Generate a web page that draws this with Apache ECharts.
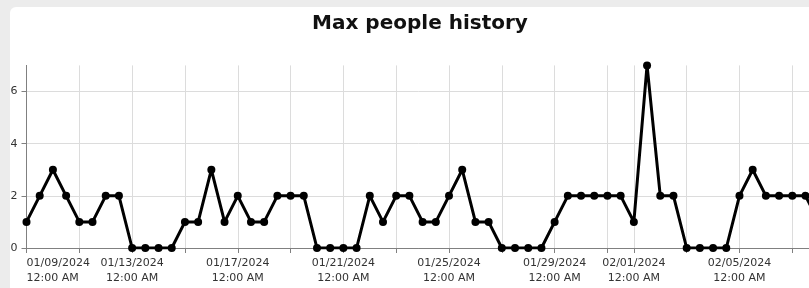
<!DOCTYPE html>
<html>
<head>
<meta charset="utf-8">
<script src="https://cdn.jsdelivr.net/npm/echarts@6/dist/echarts.min.js"></script>
<style>
html,body{margin:0;padding:0;background:#ececec;}
#chart{width:809px;height:288px;}
</style>
</head>
<body>
<div id="chart"></div>
<script>
const titleText = 'Max people history';
const categories = [
 '01/09/2024 12:00 AM','01/09/2024 12:00 PM','01/10/2024 12:00 AM','01/10/2024 12:00 PM',
 '01/11/2024 12:00 AM','01/11/2024 12:00 PM','01/12/2024 12:00 AM','01/12/2024 12:00 PM',
 '01/13/2024 12:00 AM','01/13/2024 12:00 PM','01/14/2024 12:00 AM','01/14/2024 12:00 PM',
 '01/15/2024 12:00 AM','01/15/2024 12:00 PM','01/16/2024 12:00 AM','01/16/2024 12:00 PM',
 '01/17/2024 12:00 AM','01/17/2024 12:00 PM','01/18/2024 12:00 AM','01/18/2024 12:00 PM',
 '01/19/2024 12:00 AM','01/19/2024 12:00 PM','01/20/2024 12:00 AM','01/20/2024 12:00 PM',
 '01/21/2024 12:00 AM','01/21/2024 12:00 PM','01/22/2024 12:00 AM','01/22/2024 12:00 PM',
 '01/23/2024 12:00 AM','01/23/2024 12:00 PM','01/24/2024 12:00 AM','01/24/2024 12:00 PM',
 '01/25/2024 12:00 AM','01/25/2024 12:00 PM','01/26/2024 12:00 AM','01/26/2024 12:00 PM',
 '01/27/2024 12:00 AM','01/27/2024 12:00 PM','01/28/2024 12:00 AM','01/28/2024 12:00 PM',
 '01/29/2024 12:00 AM','01/29/2024 12:00 PM','01/30/2024 12:00 AM','01/30/2024 12:00 PM',
 '01/31/2024 12:00 AM','01/31/2024 12:00 PM','02/01/2024 12:00 AM','02/01/2024 12:00 PM',
 '02/02/2024 12:00 AM','02/02/2024 12:00 PM','02/03/2024 12:00 AM','02/03/2024 12:00 PM',
 '02/04/2024 12:00 AM','02/04/2024 12:00 PM','02/05/2024 12:00 AM','02/05/2024 12:00 PM',
 '02/06/2024 12:00 AM','02/06/2024 12:00 PM','02/07/2024 12:00 AM','02/07/2024 12:00 PM',
 '02/08/2024 12:00 AM'
];
const maxPeople = [
 1,2,3,2,1,1,2,2,
 0,0,0,0,1,1,3,1,
 2,1,1,2,2,2,0,0,
 0,0,2,1,2,2,1,1,
 2,3,1,1,0,0,0,0,
 1,2,2,2,2,2,1,7,
 2,2,0,0,0,0,2,3,
 2,2,2,2,1
];
const gridTickCats = [
 '01/09/2024 12:00 AM','01/11/2024 12:00 AM','01/13/2024 12:00 AM','01/15/2024 12:00 AM',
 '01/17/2024 12:00 AM','01/19/2024 12:00 AM','01/21/2024 12:00 AM','01/23/2024 12:00 AM',
 '01/25/2024 12:00 AM','01/27/2024 12:00 AM','01/29/2024 12:00 AM','01/31/2024 12:00 AM',
 '02/01/2024 12:00 AM','02/03/2024 12:00 AM','02/05/2024 12:00 AM','02/07/2024 12:00 AM'
];
const labelCats = [
 '01/09/2024 12:00 AM','01/13/2024 12:00 AM','01/17/2024 12:00 AM','01/21/2024 12:00 AM',
 '01/25/2024 12:00 AM','01/29/2024 12:00 AM','02/01/2024 12:00 AM','02/05/2024 12:00 AM'
];
const yTicks = [0,2,4,6];
const yMax = 7;

const chart = echarts.init(document.getElementById('chart'), null, {renderer:'canvas'});
const FONT = '"DejaVu Sans", Verdana, sans-serif';
chart.setOption({
  backgroundColor: '#ececec',
  animation: false,
  graphic: [{
    type: 'rect', z: -10, silent: true,
    shape: {x: 10, y: 7, width: 830, height: 300, r: 6},
    style: {fill: '#ffffff'}
  }],
  title: {
    text: titleText,
    left: 415, top: 9, textAlign: 'center',
    textStyle: {fontFamily: FONT, fontWeight: 'bold', fontSize: 20, color: '#111'}
  },
  grid: {left: 26.5, right: -9.7, top: 65.4, bottom: 40, containLabel: false, outerBoundsMode: 'none'},
  xAxis: {
    type: 'category',
    data: categories,
    boundaryGap: false,
    axisLine: {show: true, lineStyle: {color: '#808080', width: 1}},
    axisTick: {show: true, length: 5, interval: (i, v) => gridTickCats.includes(v), lineStyle: {color: '#808080'}},
    splitLine: {show: true, interval: (i, v) => gridTickCats.includes(v), lineStyle: {color: '#dcdcdc', width: 1}},
    axisLabel: {
      interval: (i, v) => labelCats.includes(v),
      formatter: v => v.replace(' ', '\n'),
      fontFamily: FONT, fontSize: 11, color: '#333', lineHeight: 15, margin: 8,
      alignMinLabel: 'left'
    }
  },
  yAxis: {
    type: 'value',
    min: 0, max: yMax,
    axisLine: {show: true, lineStyle: {color: '#808080', width: 1}},
    axisTick: {show: true, length: 5, customValues: yTicks, lineStyle: {color: '#808080'}},
    axisLabel: {customValues: yTicks, fontFamily: FONT, fontSize: 11, color: '#333', margin: 9},
    splitLine: {show: true, lineStyle: {color: '#dcdcdc', width: 1}}
  },
  series: [{
    type: 'line',
    data: maxPeople,
    symbol: 'circle',
    symbolSize: 8,
    showAllSymbol: true,
    lineStyle: {color: '#000', width: 3},
    itemStyle: {color: '#000'},
    clip: true
  }]
});
</script>
</body>
</html>
